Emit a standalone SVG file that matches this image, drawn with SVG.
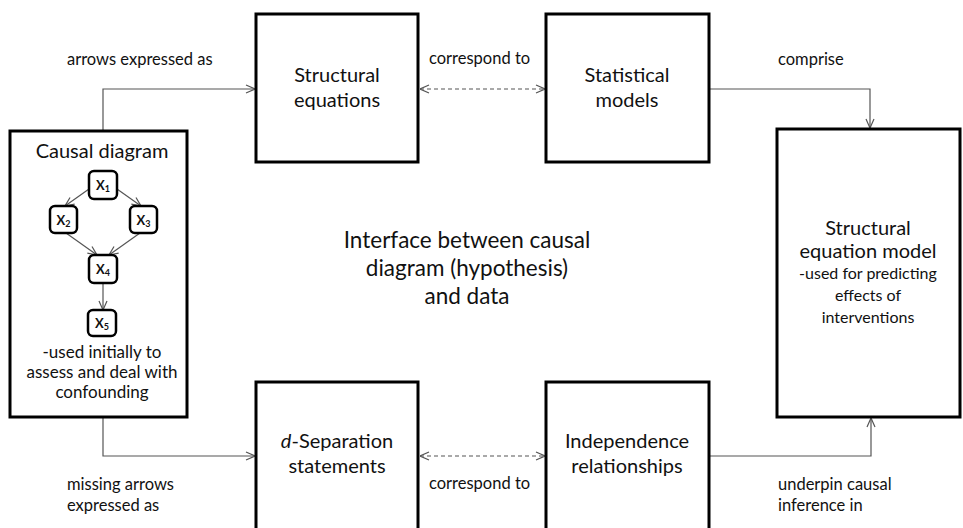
<svg xmlns="http://www.w3.org/2000/svg" width="963" height="528" viewBox="0 0 963 528">
  <style>
    text { font-family: Lato, "Open Sans", "Liberation Sans", sans-serif; fill: #111; }
    .box { fill: #fff; stroke: #000; stroke-width: 3; }
    .var { fill: #fff; stroke: #000; stroke-width: 2.5; }
    .title { font-size: 20px; text-anchor: middle; }
    .note { font-size: 17px; text-anchor: middle; }
    .sem { font-size: 16px; text-anchor: middle; }
    .lbl { font-size: 16.5px; }
    .mid { font-size: 22.5px; text-anchor: middle; }
    .vlbl { font-size: 13px; font-weight: bold; text-anchor: middle; }
    .sub { font-size: 9px; }
    .conn { fill: none; stroke: #555; stroke-width: 1.2; }
    .dash { stroke-dasharray: 4 3; }
  </style>
  <defs>
    <marker id="arrow" viewBox="0 0 10 10" refX="10" refY="5" markerWidth="10" markerHeight="10" markerUnits="userSpaceOnUse" orient="auto-start-reverse">
      <path d="M1,1 L10,5 L1,9" fill="none" stroke="#555" stroke-width="1.2"/>
    </marker>
  </defs>

  <!-- connectors -->
  <g id="connectors">
    <path class="conn" d="M103,131 V89 H255" marker-end="url(#arrow)"/>
    <path class="conn dash" d="M420,89 H545" marker-start="url(#arrow)" marker-end="url(#arrow)"/>
    <path class="conn" d="M709,89 H870 V128" marker-end="url(#arrow)"/>
    <path class="conn" d="M103,417 V456 H255" marker-end="url(#arrow)"/>
    <path class="conn dash" d="M420,456 H545" marker-start="url(#arrow)" marker-end="url(#arrow)"/>
    <path class="conn" d="M709,456 H871 V418" marker-end="url(#arrow)"/>
  </g>

  <!-- causal diagram with its small DAG -->
  <g id="causal-diagram">
    <rect class="box" x="10" y="131" width="177" height="286"/>
    <text class="title" x="102" y="158">Causal diagram</text>
    <g id="dag-edges">
      <path class="conn" d="M89,189 L65,206" marker-end="url(#arrow)"/>
      <path class="conn" d="M117,189 L141,206" marker-end="url(#arrow)"/>
      <path class="conn" d="M66,233 L97,255" marker-end="url(#arrow)"/>
      <path class="conn" d="M140,233 L109,255" marker-end="url(#arrow)"/>
      <path class="conn" d="M103,283 V310" marker-end="url(#arrow)"/>
    </g>
    <g id="x1"><rect class="var" x="89" y="171" width="28" height="28" rx="5"/><text class="vlbl" x="103" y="190">X<tspan class="sub" dy="2">1</tspan></text></g>
    <g id="x2"><rect class="var" x="50" y="206" width="27" height="27" rx="5"/><text class="vlbl" x="63.5" y="225">X<tspan class="sub" dy="2">2</tspan></text></g>
    <g id="x3"><rect class="var" x="130" y="206" width="27" height="27" rx="5"/><text class="vlbl" x="143.5" y="225">X<tspan class="sub" dy="2">3</tspan></text></g>
    <g id="x4"><rect class="var" x="89" y="255" width="28" height="28" rx="5"/><text class="vlbl" x="103" y="274">X<tspan class="sub" dy="2">4</tspan></text></g>
    <g id="x5"><rect class="var" x="88" y="310" width="28" height="26" rx="5"/><text class="vlbl" x="102" y="328">X<tspan class="sub" dy="2">5</tspan></text></g>
    <text class="note" x="102" y="358">-used initially to</text>
    <text class="note" x="102" y="378">assess and deal with</text>
    <text class="note" x="102" y="398">confounding</text>
  </g>

  <g id="structural-equations">
    <rect class="box" x="256" y="14" width="162" height="148"/>
    <text class="title" x="337" y="82">Structural</text>
    <text class="title" x="337" y="107">equations</text>
  </g>

  <g id="statistical-models">
    <rect class="box" x="546" y="14" width="163" height="148"/>
    <text class="title" x="627" y="82">Statistical</text>
    <text class="title" x="627" y="107">models</text>
  </g>

  <g id="structural-equation-model">
    <rect class="box" x="777" y="129" width="183" height="288"/>
    <text class="title" x="868" y="235">Structural</text>
    <text class="title" x="868" y="258">equation model</text>
    <text class="sem" x="868" y="279">-used for predicting</text>
    <text class="sem" x="868" y="301">effects of</text>
    <text class="sem" x="868" y="323">interventions</text>
  </g>

  <g id="d-separation">
    <rect class="box" x="256" y="382" width="162" height="170"/>
    <text class="title" x="337" y="448"><tspan font-style="italic">d</tspan>-Separation</text>
    <text class="title" x="337" y="473">statements</text>
  </g>

  <g id="independence">
    <rect class="box" x="546" y="382" width="163" height="170"/>
    <text class="title" x="627" y="448">Independence</text>
    <text class="title" x="627" y="473">relationships</text>
  </g>

  <!-- connector labels -->
  <g id="labels">
    <text class="lbl" x="67" y="65">arrows expressed as</text>
    <text class="lbl" x="429" y="64">correspond to</text>
    <text class="lbl" x="778" y="65">comprise</text>
    <text class="lbl" x="67" y="490">missing arrows</text>
    <text class="lbl" x="67" y="511">expressed as</text>
    <text class="lbl" x="429" y="489">correspond to</text>
    <text class="lbl" x="778" y="490">underpin causal</text>
    <text class="lbl" x="778" y="511">inference in</text>
  </g>

  <g id="caption">
    <text class="mid" x="467" y="248">Interface between causal</text>
    <text class="mid" x="467" y="276">diagram (hypothesis)</text>
    <text class="mid" x="467" y="304">and data</text>
  </g>
</svg>
